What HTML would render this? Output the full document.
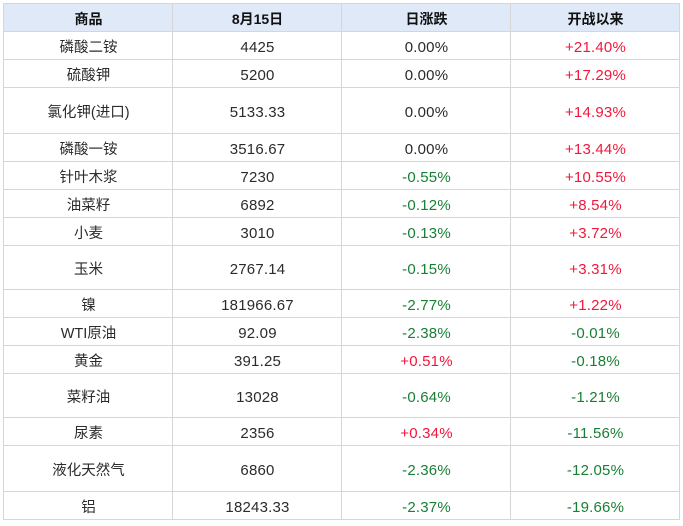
<!DOCTYPE html>
<html>
<head>
<meta charset="utf-8">
<style>
html,body{margin:0;padding:0;background:#fff;}
body{width:683px;height:526px;position:relative;overflow:hidden;
font-family:"Liberation Sans","Noto Sans CJK SC",sans-serif;color:#2b2b2b;}
.hd{position:absolute;left:3px;top:3px;width:676px;height:28px;background:#dfe9f7;}
.h{position:absolute;left:3px;width:677px;height:1px;background:#d6d6d6;}
.v{position:absolute;top:3px;height:517px;width:1px;background:#d6d6d6;}
.c{position:absolute;width:169px;display:flex;align-items:center;justify-content:center;
font-size:15px;line-height:16px;white-space:nowrap;letter-spacing:0.2px;box-sizing:border-box;padding-top:4px;}
.c.zh{font-size:14.5px;letter-spacing:0;}
.b{font-weight:bold;font-size:14px;color:#111;letter-spacing:0;padding-top:2px;}
.r{color:#f2173a;}
.g{color:#188034;}
</style>
</head>
<body>
<div class="hd"></div>
<div class="h" style="top:3px"></div>
<div class="h" style="top:31px"></div>
<div class="h" style="top:59px"></div>
<div class="h" style="top:87px"></div>
<div class="h" style="top:133px"></div>
<div class="h" style="top:161px"></div>
<div class="h" style="top:189px"></div>
<div class="h" style="top:217px"></div>
<div class="h" style="top:245px"></div>
<div class="h" style="top:289px"></div>
<div class="h" style="top:317px"></div>
<div class="h" style="top:345px"></div>
<div class="h" style="top:373px"></div>
<div class="h" style="top:417px"></div>
<div class="h" style="top:445px"></div>
<div class="h" style="top:491px"></div>
<div class="h" style="top:519px"></div>
<div class="v" style="left:3px"></div>
<div class="v" style="left:172px"></div>
<div class="v" style="left:341px"></div>
<div class="v" style="left:510px"></div>
<div class="v" style="left:679px"></div>

<div class="c b" style="left:4px;top:4px;height:27px">商品</div>
<div class="c b" style="left:173px;top:4px;height:27px">8月15日</div>
<div class="c b" style="left:342px;top:4px;height:27px">日涨跌</div>
<div class="c b" style="left:511px;top:4px;height:27px">开战以来</div>

<div class="c zh" style="left:4px;top:32px;height:27px">磷酸二铵</div>
<div class="c" style="left:173px;top:32px;height:27px">4425</div>
<div class="c" style="left:342px;top:32px;height:27px">0.00%</div>
<div class="c r" style="left:511px;top:32px;height:27px">+21.40%</div>

<div class="c zh" style="left:4px;top:60px;height:27px">硫酸钾</div>
<div class="c" style="left:173px;top:60px;height:27px">5200</div>
<div class="c" style="left:342px;top:60px;height:27px">0.00%</div>
<div class="c r" style="left:511px;top:60px;height:27px">+17.29%</div>

<div class="c zh" style="left:4px;top:88px;height:45px">氯化钾(进口)</div>
<div class="c" style="left:173px;top:88px;height:45px">5133.33</div>
<div class="c" style="left:342px;top:88px;height:45px">0.00%</div>
<div class="c r" style="left:511px;top:88px;height:45px">+14.93%</div>

<div class="c zh" style="left:4px;top:134px;height:27px">磷酸一铵</div>
<div class="c" style="left:173px;top:134px;height:27px">3516.67</div>
<div class="c" style="left:342px;top:134px;height:27px">0.00%</div>
<div class="c r" style="left:511px;top:134px;height:27px">+13.44%</div>

<div class="c zh" style="left:4px;top:162px;height:27px">针叶木浆</div>
<div class="c" style="left:173px;top:162px;height:27px">7230</div>
<div class="c g" style="left:342px;top:162px;height:27px">-0.55%</div>
<div class="c r" style="left:511px;top:162px;height:27px">+10.55%</div>

<div class="c zh" style="left:4px;top:190px;height:27px">油菜籽</div>
<div class="c" style="left:173px;top:190px;height:27px">6892</div>
<div class="c g" style="left:342px;top:190px;height:27px">-0.12%</div>
<div class="c r" style="left:511px;top:190px;height:27px">+8.54%</div>

<div class="c zh" style="left:4px;top:218px;height:27px">小麦</div>
<div class="c" style="left:173px;top:218px;height:27px">3010</div>
<div class="c g" style="left:342px;top:218px;height:27px">-0.13%</div>
<div class="c r" style="left:511px;top:218px;height:27px">+3.72%</div>

<div class="c zh" style="left:4px;top:246px;height:43px">玉米</div>
<div class="c" style="left:173px;top:246px;height:43px">2767.14</div>
<div class="c g" style="left:342px;top:246px;height:43px">-0.15%</div>
<div class="c r" style="left:511px;top:246px;height:43px">+3.31%</div>

<div class="c zh" style="left:4px;top:290px;height:27px">镍</div>
<div class="c" style="left:173px;top:290px;height:27px">181966.67</div>
<div class="c g" style="left:342px;top:290px;height:27px">-2.77%</div>
<div class="c r" style="left:511px;top:290px;height:27px">+1.22%</div>

<div class="c zh" style="left:4px;top:318px;height:27px">WTI原油</div>
<div class="c" style="left:173px;top:318px;height:27px">92.09</div>
<div class="c g" style="left:342px;top:318px;height:27px">-2.38%</div>
<div class="c g" style="left:511px;top:318px;height:27px">-0.01%</div>

<div class="c zh" style="left:4px;top:346px;height:27px">黄金</div>
<div class="c" style="left:173px;top:346px;height:27px">391.25</div>
<div class="c r" style="left:342px;top:346px;height:27px">+0.51%</div>
<div class="c g" style="left:511px;top:346px;height:27px">-0.18%</div>

<div class="c zh" style="left:4px;top:374px;height:43px">菜籽油</div>
<div class="c" style="left:173px;top:374px;height:43px">13028</div>
<div class="c g" style="left:342px;top:374px;height:43px">-0.64%</div>
<div class="c g" style="left:511px;top:374px;height:43px">-1.21%</div>

<div class="c zh" style="left:4px;top:418px;height:27px">尿素</div>
<div class="c" style="left:173px;top:418px;height:27px">2356</div>
<div class="c r" style="left:342px;top:418px;height:27px">+0.34%</div>
<div class="c g" style="left:511px;top:418px;height:27px">-11.56%</div>

<div class="c zh" style="left:4px;top:446px;height:45px">液化天然气</div>
<div class="c" style="left:173px;top:446px;height:45px">6860</div>
<div class="c g" style="left:342px;top:446px;height:45px">-2.36%</div>
<div class="c g" style="left:511px;top:446px;height:45px">-12.05%</div>

<div class="c zh" style="left:4px;top:492px;height:27px">铝</div>
<div class="c" style="left:173px;top:492px;height:27px">18243.33</div>
<div class="c g" style="left:342px;top:492px;height:27px">-2.37%</div>
<div class="c g" style="left:511px;top:492px;height:27px">-19.66%</div>
</body>
</html>
